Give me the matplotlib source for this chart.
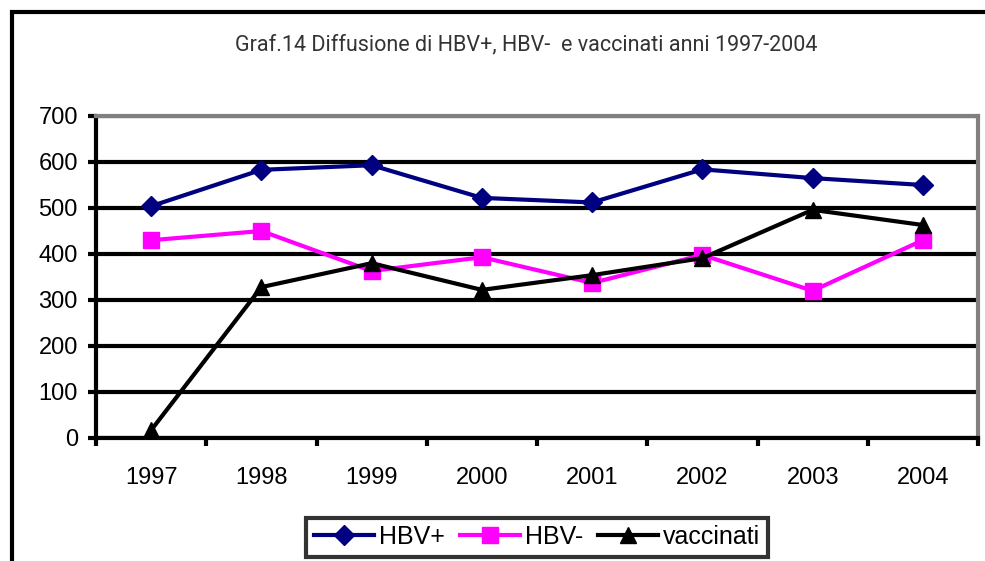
import matplotlib
matplotlib.use('Agg')
import matplotlib.pyplot as plt
from matplotlib.patches import Rectangle

# Data
years = ['1997', '1998', '1999', '2000', '2001', '2002', '2003', '2004']
hbv_pos = [504, 583, 593, 522, 512, 584, 565, 550]
hbv_neg = [430, 450, 363, 393, 337, 398, 320, 430]
vaccinati = [17, 328, 380, 322, 354, 391, 496, 463]

plt.rcParams['font.family'] = ['Liberation Sans', 'DejaVu Sans']

fig = plt.figure(figsize=(9.85, 5.61), dpi=100)
ax = fig.add_axes([96 / 985, 1 - 438 / 561, (978 - 96) / 985, (438 - 116) / 561])

# outer chart frame (cut off at right and bottom like the original)
fig.patches.append(Rectangle((12 / 985, -0.1), 1.2, 1 - 12 / 561 + 0.1,
                             transform=fig.transFigure, fill=False,
                             edgecolor='black', linewidth=3))

x = range(len(years))
ax.plot(x, hbv_pos, color='#000080', marker='D', markersize=10, linewidth=3, label='HBV+')
ax.plot(x, hbv_neg, color='#ff00ff', marker='s', markersize=12, linewidth=3, label='HBV-')
ax.plot(x, vaccinati, color='black', marker='^', markersize=12, linewidth=3, label='vaccinati')

ax.set_xlim(-0.5, len(years) - 0.5)
ax.set_ylim(0, 700)
ax.set_yticks(range(0, 701, 100))
ax.yaxis.grid(True, color='black', linewidth=3)
ax.set_axisbelow(True)

ax.set_xticks([i + 0.5 for i in range(-1, len(years))], minor=False)
ax.set_xticklabels([])
ax.set_xticks(list(x), minor=True)
ax.set_xticklabels(years, minor=True)
ax.tick_params(axis='x', which='minor', length=0, pad=21, labelsize=17)
ax.tick_params(axis='x', which='major', length=6, width=3, direction='out')
ax.tick_params(axis='y', length=6, width=3, direction='out', pad=7, labelsize=17)

for side in ['top', 'right']:
    ax.spines[side].set_color('#808080')
    ax.spines[side].set_linewidth(3)
for side in ['left', 'bottom']:
    ax.spines[side].set_color('black')
    ax.spines[side].set_linewidth(3)

fig.text(526 / 985, 1 - 45 / 561, 'Graf.14 Diffusione di HBV+, HBV-  e vaccinati anni 1997-2004',
         ha='center', va='center', fontsize=15.5, color='#333333', family=['Roboto', 'DejaVu Sans'])

leg = fig.legend(loc='center', bbox_to_anchor=(537 / 985, 1 - 537 / 561), ncol=3,
                 fontsize=18, frameon=True, fancybox=False, handlelength=2.4,
                 columnspacing=0.6, handletextpad=0.2, borderpad=0.3, borderaxespad=0)
leg.get_frame().set_edgecolor('black')
leg.get_frame().set_linewidth(3)

fig.savefig('out.png', dpi=100)
